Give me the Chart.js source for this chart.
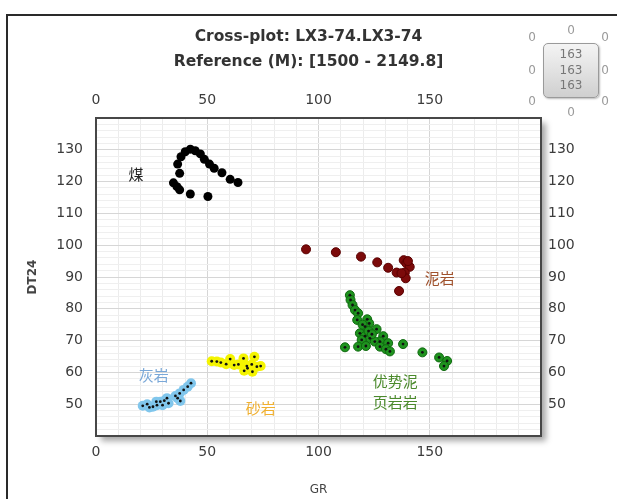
<!DOCTYPE html>
<html>
<head>
<meta charset="utf-8">
<script src="https://cdn.jsdelivr.net/npm/chart.js@4/dist/chart.umd.min.js"></script>
<style>
  html, body { margin: 0; padding: 0; background: #fff; overflow: hidden; }
  #wrap { position: relative; width: 617px; height: 499px; }
  #frame { position: absolute; left: 6px; top: 14px; width: 700px; height: 600px; border: 2px solid #2a2a2a; }
  #chart { position: absolute; left: 0; top: 0; }
  .z { position: absolute; font: 12px "DejaVu Sans", sans-serif; color: #9a9a9a; width: 16px; text-align: center; }
  #box { position: absolute; left: 543px; top: 43px; width: 54px; height: 53px; border: 1px solid #9a9a9a; border-radius: 5px;
         background: linear-gradient(#f4f4f4, #e2e2e2 50%, #cfcfcf); box-shadow: 1px 1px 2px #bbb; }
  #box div { font: 12px "DejaVu Sans", sans-serif; color: #777; text-align: center; line-height: 15.5px; }
</style>
</head>
<body>
<div id="wrap">
  <div id="frame"></div>
  <canvas id="chart" width="617" height="499"></canvas>
  <div class="z" style="left:524px;top:30px">0</div>
  <div class="z" style="left:563px;top:23px">0</div>
  <div class="z" style="left:597px;top:30px">0</div>
  <div class="z" style="left:524px;top:63px">0</div>
  <div class="z" style="left:597px;top:63px">0</div>
  <div class="z" style="left:524px;top:94px">0</div>
  <div class="z" style="left:563px;top:105px">0</div>
  <div class="z" style="left:597px;top:94px">0</div>
  <div id="box"><div style="margin-top:3px">163</div><div>163</div><div>163</div></div>
</div>
<script>
// Datos (GR en X, DT24 en Y)
const coalGR = [34.8, 36.4, 37.6, 42.4, 50.3, 37.6, 36.7, 38.2, 40.1, 42.4, 44.6, 46.9, 48.7, 51.0, 53.1, 56.6, 60.3, 63.8];
const coalDT = [119.6, 118.4, 117.4, 116.1, 115.3, 122.6, 125.5, 127.8, 129.4, 130.2, 129.7, 128.7, 127.0, 125.5, 124.2, 122.8, 120.7, 119.7];

const mudGR = [94.4, 107.8, 119.1, 126.4, 131.3, 135.1, 138.3, 139.5, 141.0, 138.8, 139.2, 136.2, 137.3, 140.2];
const mudDT = [98.7, 97.8, 96.4, 94.6, 92.9, 91.4, 95.3, 94.3, 93.2, 91.4, 89.6, 85.6, 91.2, 95.0];

const shaleGR = [114.1, 114.4, 115.3, 116.4, 117.8, 117.4, 121.9, 122.8, 120.9, 126.1, 118.6, 120.9, 123.1, 119.4, 129.1, 127.6,
                 125.3, 131.3, 117.8, 121.3, 111.9, 127.6, 130.3, 132.1, 138.0, 146.7, 154.2, 157.8, 156.4, 122.5, 124.0, 119.8];
const shaleDT = [84.3, 82.8, 81.2, 79.6, 78.6, 76.5, 76.7, 75.4, 74.4, 73.6, 72.3, 71.4, 70.7, 70.2, 71.4, 69.7,
                 69.7, 69.2, 68.1, 68.3, 67.9, 68.1, 67.3, 66.6, 68.9, 66.3, 64.7, 63.6, 62.0, 73.0, 72.0, 75.0];

const sandGR = [52.0, 54.3, 56.1, 58.5, 60.3, 62.1, 64.0, 66.3, 67.8, 66.6, 70.0, 71.2, 72.3, 70.3, 68.1, 74.0];
const sandDT = [63.5, 63.4, 63.1, 62.6, 64.2, 62.3, 62.5, 64.4, 62.0, 60.5, 62.5, 64.9, 61.8, 60.2, 61.3, 62.0];

const limeGR = [21.0, 23.0, 24.0, 25.6, 27.4, 27.1, 28.9, 30.7, 29.9, 32.6, 31.9, 35.7, 36.7, 37.9, 37.6, 39.4, 41.2, 42.7];
const limeDT = [49.5, 50.0, 49.0, 49.2, 49.7, 50.8, 50.8, 51.1, 49.7, 50.3, 51.9, 52.6, 51.9, 51.0, 53.4, 54.5, 55.5, 56.6];

// Etiquetas de litología
const labelTexts = ['煤', '泥岩', '优势泥', '页岩岩', '砂岩', '灰岩'];
const labelGR = [18, 154.5, 134.5, 134.5, 74, 26];
const labelDT = [122.3, 89.7, 57.3, 50.7, 48.8, 59.2];
const labelColors = ['#222', '#a0522d', '#4b8a2c', '#4b8a2c', '#f0b030', '#7aa8d8'];

const xTickLabels = [0, 50, 100, 150];
const yTickLabels = [50, 60, 70, 80, 90, 100, 110, 120, 130];

function pts(xs, ys) {
  return xs.map((x, i) => ({ x: x, y: ys[i] }));
}

function dotSet(xs, ys) {
  return { data: pts(xs, ys), pointRadius: 1.4, pointBackgroundColor: '#111', pointBorderWidth: 0, order: 0 };
}

// Sombra y fondo del área de trazado
const plotShadow = {
  id: 'plotShadow',
  beforeDraw(chart) {
    const { ctx, chartArea: a } = chart;
    ctx.save();
    ctx.shadowColor = 'rgba(0,0,0,0.35)';
    ctx.shadowBlur = 6;
    ctx.shadowOffsetX = 5;
    ctx.shadowOffsetY = 5;
    ctx.fillStyle = '#fff';
    ctx.fillRect(a.left, a.top, a.right - a.left, a.bottom - a.top);
    ctx.restore();
  }
};

// Etiquetas de texto dentro del gráfico
const lithoLabels = {
  id: 'lithoLabels',
  afterDatasetsDraw(chart) {
    const { ctx, scales } = chart;
    ctx.save();
    ctx.font = '15px "Noto Sans CJK SC"';
    ctx.textAlign = 'center';
    ctx.textBaseline = 'middle';
    labelTexts.forEach((t, i) => {
      ctx.fillStyle = labelColors[i];
      ctx.fillText(t, scales.x.getPixelForValue(labelGR[i]), scales.y.getPixelForValue(labelDT[i]));
    });
    ctx.restore();
  }
};

function createCrossPlot() {
  const ctx = document.getElementById('chart').getContext('2d');
  const tickFont = { family: 'DejaVu Sans', size: 14 };
  const tickColor = '#3c3c3c';
  const frame = { display: true, color: '#474747', width: 2 };

  new Chart(ctx, {
    type: 'scatter',
    data: {
      datasets: [
        { data: pts(coalGR, coalDT), pointRadius: 4.5, pointBackgroundColor: '#000', pointBorderWidth: 0, order: 1 },
        { data: pts(mudGR, mudDT), pointRadius: 4.5, pointBackgroundColor: '#7c0a0a', pointBorderColor: '#5a0000', pointBorderWidth: 1, order: 1 },
        { data: pts(shaleGR, shaleDT), pointRadius: 4.5, pointBackgroundColor: '#1f931f', pointBorderColor: '#0f6a0f', pointBorderWidth: 1, order: 1 },
        { data: pts(sandGR, sandDT), pointRadius: 5, pointBackgroundColor: '#f4f400', pointBorderWidth: 0, order: 1 },
        { data: pts(limeGR, limeDT), pointRadius: 5, pointBackgroundColor: '#80c6ec', pointBorderWidth: 0, order: 1 },
        dotSet(shaleGR, shaleDT),
        dotSet(sandGR, sandDT),
        dotSet(limeGR, limeDT)
      ]
    },
    options: {
      responsive: false,
      animation: false,
      layout: { padding: 0 },
      plugins: {
        legend: { display: false },
        tooltip: { enabled: false },
        title: {
          display: true,
          text: 'Cross-plot: LX3-74.LX3-74',
          color: '#333',
          font: { family: 'DejaVu Sans', size: 15.5, weight: 'bold' },
          padding: { top: 27.7, bottom: 6.4 }
        },
        subtitle: {
          display: true,
          text: 'Reference (M): [1500 - 2149.8]',
          color: '#333',
          font: { family: 'DejaVu Sans', size: 15.5, weight: 'bold' },
          padding: { top: 0, bottom: 0 }
        }
      },
      scales: {
        x: {
          type: 'linear', position: 'bottom', min: 0, max: 200,
          afterFit: s => { s.height = 63; },
          border: frame,
          grid: { drawTicks: false, color: c => c.tick.value % 50 === 0 ? '#d6d6d6' : '#ececec' },
          ticks: { stepSize: 10, autoSkip: false, maxRotation: 0, padding: 8, color: tickColor, font: tickFont,
                   callback: v => xTickLabels.includes(v) ? v : '' },
          title: { display: true, text: 'GR', color: '#444', font: { family: 'DejaVu Sans', size: 12 }, padding: { top: 0, bottom: 2 } }
        },
        x2: {
          type: 'linear', position: 'top', min: 0, max: 200,
          afterFit: s => { s.height = 46.7; },
          border: frame,
          grid: { display: false, drawTicks: false },
          ticks: { stepSize: 10, autoSkip: false, maxRotation: 0, padding: 9, color: tickColor, font: tickFont,
                   callback: v => xTickLabels.includes(v) ? v : '' }
        },
        y: {
          type: 'linear', position: 'left', min: 40, max: 140,
          afterFit: s => { s.width = 96; },
          border: frame,
          grid: { drawTicks: false, color: c => c.tick.value % 10 === 0 ? '#d6d6d6' : '#efefef' },
          ticks: { stepSize: 2, autoSkip: false, padding: 13, color: tickColor, font: tickFont,
                   callback: v => yTickLabels.includes(v) ? v : '' },
          title: { display: true, text: 'DT24', color: '#444', font: { family: 'DejaVu Sans', size: 12, weight: 'bold' }, padding: { top: 26, bottom: 0 } }
        },
        y2: {
          type: 'linear', position: 'right', min: 40, max: 140,
          afterFit: s => { s.width = 76; },
          border: frame,
          grid: { display: false, drawTicks: false },
          ticks: { stepSize: 2, autoSkip: false, padding: 7, color: tickColor, font: tickFont,
                   callback: v => yTickLabels.includes(v) ? v : '' }
        }
      }
    },
    plugins: [plotShadow, lithoLabels]
  });
}

document.addEventListener('DOMContentLoaded', createCrossPlot);
</script>
</body>
</html>
